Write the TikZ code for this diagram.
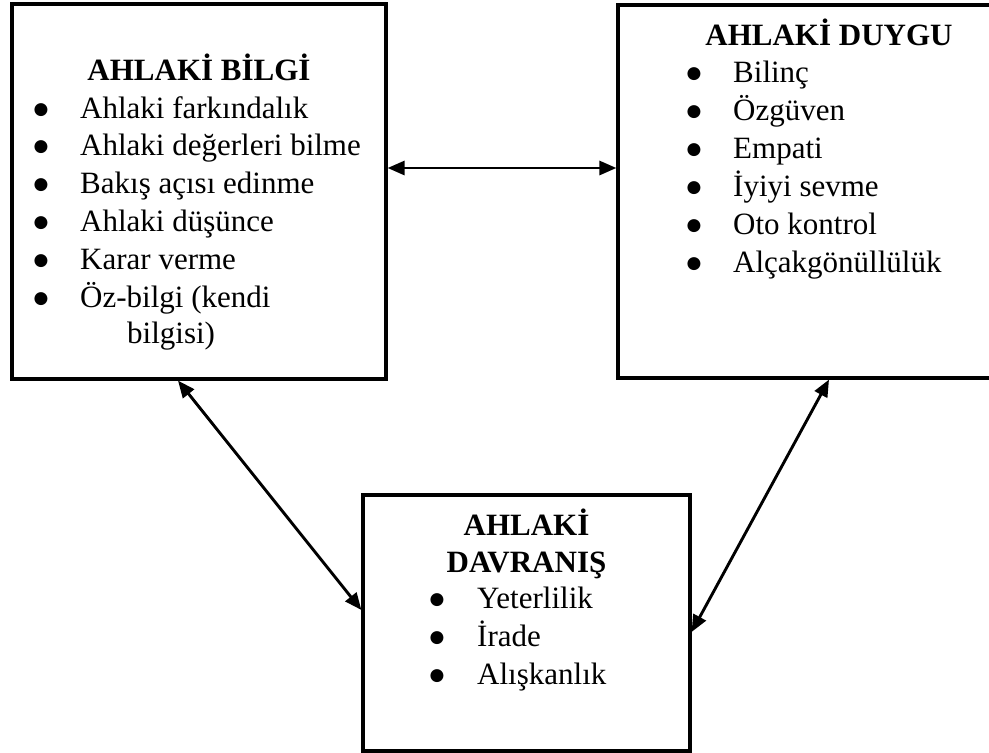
\documentclass[tikz,border=0pt]{standalone}
\usepackage{fontspec}
\setmainfont{Liberation Serif}
\newfontfamily\noktafont{DejaVu Sans}
\usetikzlibrary{arrows.meta,positioning}
\tikzset{
    ahKutu/.style={
        draw=black,
        line width=3.2pt,
        inner sep=0pt
    },
    ahBaslik/.style={
        anchor=base,
        inner sep=0pt,
        font=\fontsize{31}{38}\selectfont\bfseries
    },
    ahMadde/.style={
        anchor=base west,
        inner sep=0pt,
        font=\fontsize{31}{38}\selectfont
    },
    ahNokta/.style={anchor=base,inner sep=0pt,font=\noktafont\fontsize{17}{17}\selectfont},
    ahOk/.style={{Triangle[length=17pt,width=14pt]}-{Triangle[length=17pt,width=14pt]},line width=2.9pt}
}

\begin{document}
\begin{tikzpicture}[x=1pt,y={(0pt,-1pt)}]
        \useasboundingbox (0,0) rectangle (989,753);

        % kutular
        \node[ahKutu,minimum width=374pt,minimum height=375pt] (bilgi) at (199,191.5) {};
        \node[ahKutu,minimum width=422pt,minimum height=373pt] (duygu) at (829,191.5) {};
        \node[ahKutu,minimum width=327pt,minimum height=256pt] (davranis) at (526.5,623) {};

        % ahlaki bilgi
        \node[ahBaslik] (bilgiBaslik) at (199,80) {AHLAKİ BİLGİ};
        \foreach \txt [count=\i] in {Ahlaki farkındalık, Ahlaki değerleri bilme,
            Bakış açısı edinme, Ahlaki düşünce, Karar verme, Öz-bilgi (kendi}{
            \node[ahNokta] (bilgiN\i) at (41,{114+37.8*(\i-1)}) {●};
            \node[ahMadde] (bilgiT\i) at (80,{118+37.8*(\i-1)}) {\txt};
        }
        \node[ahMadde] (bilgiT7) at (127,343.5) {bilgisi)};

        % ahlaki duygu
        \node[ahBaslik] (duyguBaslik) at (829,45) {AHLAKİ DUYGU};
        \foreach \txt [count=\i] in {Bilinç, Özgüven, Empati, İyiyi sevme,
            Oto kontrol, Alçakgönüllülük}{
            \node[ahNokta] (duyguN\i) at (694,{78+38*(\i-1)}) {●};
            \node[ahMadde] (duyguT\i) at (733,{82+38*(\i-1)}) {\txt};
        }

        % ahlaki davranis
        \node[ahBaslik] (davranisBaslik1) at (526.5,535) {AHLAKİ};
        \node[ahBaslik] (davranisBaslik2) at (526.5,572) {DAVRANIŞ};
        \foreach \txt [count=\i] in {Yeterlilik, İrade, Alışkanlık}{
            \node[ahNokta] (davranisN\i) at (437,{604+38*(\i-1)}) {●};
            \node[ahMadde] (davranisT\i) at (477,{608+38*(\i-1)}) {\txt};
        }

        % oklar
        \draw[ahOk] ([yshift=23.5pt]bilgi.east) -- ([yshift=23.5pt]duygu.west);
        \draw[ahOk] ([xshift=-21pt]bilgi.south) -- ([yshift=13pt]davranis.west);
        \draw[ahOk] (duygu.south) -- ([yshift=-9pt]davranis.east);
    \end{tikzpicture}
\end{document}
